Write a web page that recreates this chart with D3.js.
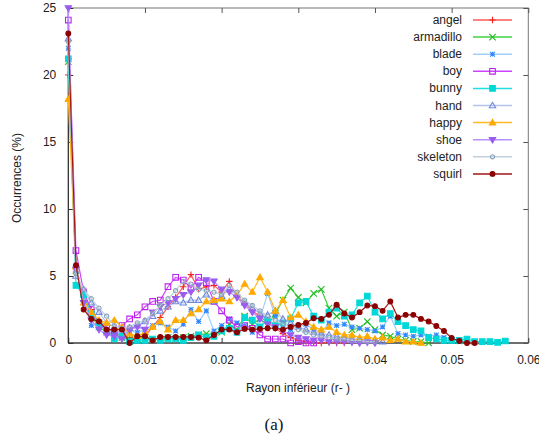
<!DOCTYPE html>
<html><head><meta charset="utf-8">
<script src="https://cdn.jsdelivr.net/npm/d3@7"></script>
<style>
html,body{margin:0;padding:0;background:#fff;}
svg{display:block;font-family:"Liberation Sans",Arial,sans-serif;}
</style></head>
<body><svg id="chart" width="539" height="439"></svg>
<script>
// Data: occurrences (%) per radius bin, bin width 0.001
const xStep = 0.001;
const angel = [20.0,5.3,3.5,2.5,1.5,1.0,0.7,0.5,0.4,0.3,0.5,1.2,1.9,2.7,3.4,4.2,5.1,4.0,4.2,4.3,3.8,4.6,3.4,3.0,2.4,2.0,1.5,1.1,0.7,0.4,0.2,0.1,0.05,0.0,0.05,0.0,0.0];
const armadillo = [21.0,5.4,3.3,2.0,1.2,0.8,0.5,0.4,0.3,0.3,0.4,0.3,0.3,0.4,0.3,0.4,0.5,0.6,0.7,0.6,0.8,1.4,1.0,2.0,1.4,1.8,1.3,2.2,3.2,4.1,3.4,3.0,3.7,4.0,2.6,2.0,2.3,1.0,1.1,1.6,1.0,0.6,0.5,0.3,0.2,0.1,0.1,0.0];
const blade = [22.0,5.4,3.6,1.3,1.4,0.9,0.8,0.6,0.9,0.8,1.0,1.3,1.5,1.2,0.9,1.4,2.5,1.6,2.4,0.9,1.3,1.8,1.5,1.3,0.8,1.8,3.7,2.0,1.2,1.0,1.2,1.4,1.0,0.8,1.5,1.3,1.4,1.2,1.1,1.0,0.9,1.2,2.0,0.7,0.6,0.5,0.6,0.5,0.6,0.4,0.3,0.1];
const boy = [24.1,6.9,3.8,2.5,1.5,1.2,0.8,1.3,1.8,2.1,2.7,3.1,3.2,4.2,4.9,4.7,4.1,4.9,4.5,3.1,2.4,1.7,1.2,1.3,1.1,0.6,0.3,0.3,0.3,0.0,0.1,0.0,0.0];
const bunny = [21.2,4.3,3.6,2.2,1.5,0.9,0.3,0.5,0.1,0.2,0.2,0.3,0.2,0.3,0.3,0.2,0.4,0.6,0.4,0.5,0.9,1.1,0.8,1.9,1.7,1.2,1.7,1.3,1.5,1.8,3.0,3.1,2.0,1.7,2.3,2.6,2.0,2.1,3.0,3.5,2.3,1.8,2.2,1.6,1.3,1.0,0.9,0.4,0.3,0.2,0.2,0.2,0.3,0.1,0.1,0.1,0.05,0.15];
const hand = [22.7,5.0,4.0,3.0,2.3,1.5,1.2,1.0,1.1,1.3,1.6,2.0,2.4,2.7,3.1,3.0,3.2,3.2,3.6,3.1,3.5,4.0,3.6,3.0,2.6,2.2,2.1,2.4,1.8,1.5,1.2,1.0,0.8,0.7,0.6,0.5,0.4,0.3,0.3,0.2,0.2,0.1];
const happy = [18.2,5.7,3.0,2.3,1.7,1.5,1.7,1.2,0.7,0.5,0.8,1.2,1.6,1.0,1.7,1.7,2.2,2.5,3.1,3.2,3.3,3.1,3.6,4.4,3.8,4.9,3.8,2.4,3.2,1.9,2.1,1.6,1.2,1.0,1.2,0.8,0.6,0.6,0.4,0.5,0.3,0.4,0.2,0.3,0.1,0.1,0.0];
const shoe = [25.0,5.5,3.0,1.7,1.0,0.6,0.5,0.3,1.0,1.2,1.0,2.3,2.7,3.0,3.3,3.6,3.8,4.3,4.7,4.6,4.0,3.8,3.4,2.8,2.3,1.8,1.4,1.2,0.9,0.6,0.4,0.3,0.2,0.2,0.1,0.1,0.1,0.05,0.0,0.05,0.0];
const skeleton = [22.5,5.2,4.0,3.3,2.6,2.0,1.3,1.1,1.2,1.5,1.7,2.2,2.8,3.3,3.9,4.6,4.4,4.0,3.9,3.8,3.6,4.3,3.8,3.2,2.8,2.4,2.0,1.7,1.4,1.2,1.0,0.8,0.6,0.5,0.4,0.3,0.3,0.2,0.2,0.1,0.1];
const squirl = [23.1,5.8,2.5,1.8,1.6,1.0,1.0,1.0,0.0,0.5,0.5,0.2,0.45,0.45,0.45,0.45,0.45,0.4,0.2,0.6,1.0,1.0,0.8,1.05,1.0,1.05,1.1,1.1,1.0,1.2,1.35,1.5,1.85,1.8,2.1,2.85,2.2,1.9,2.3,2.8,2.75,2.4,3.1,1.9,2.1,2.1,1.8,1.6,1.27,0.9,0.37,0.15,0.0,0.0];

const names = ["angel","armadillo","blade","boy","bunny","hand","happy","shoe","skeleton","squirl"];
const seriesValues = [angel,armadillo,blade,boy,bunny,hand,happy,shoe,skeleton,squirl];
const lineColors = ["#ff5a5a","#3fd23f","#9fcfff","#cc44ff","#22e0e0","#b4c2ee","#ffba20","#b890ff","#c2d0dc","#a01818"];
const markColors = ["#ee2020","#22bb22","#3388ff","#bb22ee","#00d8d8","#7088dd","#ffaa00","#9a5cf0","#8aa2b8","#8b0000"];
const markTypes = ["plus","cross","star","sqOpen","sqFill","triOpen","triFill","tdFill","circOpen","circFill"];
const xTicks = [0,0.01,0.02,0.03,0.04,0.05,0.06];
const xTickLabels = ["0","0.01","0.02","0.03","0.04","0.05","0.06"];
const yTicks = [0,5,10,15,20,25];

const svg = d3.select("#chart");
const L = 68.3, R = 528.3, T = 8, B = 343;
const x = d3.scaleLinear().domain([0,0.06]).range([L,R]);
const y = d3.scaleLinear().domain([0,25]).range([B,T]);

svg.append("defs").append("clipPath").attr("id","clip")
  .append("rect").attr("x",L-4).attr("y",T-4).attr("width",R-L+8).attr("height",B-T+8);

function markerPath(type){
  const r = 3.2;
  switch(type){
    case "plus": return `M${-r},0H${r}M0,${-r}V${r}`;
    case "cross": return `M${-r},${-r}L${r},${r}M${-r},${r}L${r},${-r}`;
    case "star": {const s=2.4; return `M${-s},0H${s}M0,${-s}V${s}M${-s},${-s}L${s},${s}M${-s},${s}L${s},${-s}`;}
    case "sqOpen": case "sqFill": {const s=2.8; return `M${-s},${-s}H${s}V${s}H${-s}Z`;}
    case "triOpen": case "triFill": return `M0,${-r}L${r},${r*0.7}L${-r},${r*0.7}Z`;
    case "tdFill": return `M0,${r}L${r},${-r*0.7}L${-r},${-r*0.7}Z`;
    case "circOpen": return d3.symbol(d3.symbolCircle, 14)();
    case "circFill": return d3.symbol(d3.symbolCircle, 18)();
  }
}
function isFilled(t){ return ["sqFill","triFill","tdFill","circFill"].includes(t); }

const frame = svg.append("g");
frame.append("rect").attr("x",L).attr("y",T).attr("width",R-L).attr("height",B-T)
  .attr("fill","none").attr("stroke","#777").attr("stroke-width",1);
frame.append("line").attr("x1",L).attr("x2",L).attr("y1",T).attr("y2",B).attr("stroke","#222");
frame.append("line").attr("x1",L).attr("x2",R).attr("y1",B).attr("y2",B).attr("stroke","#222");

const xAxisB = d3.axisBottom(x).tickValues(xTicks).tickFormat((d,i)=>xTickLabels[i]).tickSizeInner(-5).tickSizeOuter(0).tickPadding(12);
const gx = svg.append("g").attr("transform",`translate(0,${B})`).call(xAxisB);
gx.select(".domain").remove();
gx.selectAll("line").attr("stroke","#333");
gx.selectAll("text").attr("font-size",12).attr("fill","#222").attr("font-family","Liberation Sans, Arial, sans-serif");

const xAxisT = d3.axisTop(x).tickValues(xTicks).tickFormat("").tickSizeInner(-5).tickSizeOuter(0);
const gxt = svg.append("g").attr("transform",`translate(0,${T})`).call(xAxisT);
gxt.select(".domain").remove();
gxt.selectAll("line").attr("stroke","#555");

const yAxisL = d3.axisLeft(y).tickValues(yTicks).tickSizeInner(-5).tickSizeOuter(0).tickPadding(12);
const gy = svg.append("g").attr("transform",`translate(${L},0)`).call(yAxisL);
gy.select(".domain").remove();
gy.selectAll("line").attr("stroke","#333");
gy.selectAll("text").attr("font-size",12).attr("fill","#222").attr("font-family","Liberation Sans, Arial, sans-serif");

const yAxisR = d3.axisRight(y).tickValues(yTicks).tickFormat("").tickSizeInner(-5).tickSizeOuter(0);
const gyr = svg.append("g").attr("transform",`translate(${R},0)`).call(yAxisR);
gyr.select(".domain").remove();
gyr.selectAll("line").attr("stroke","#555");

svg.append("text").attr("x",298).attr("y",392).attr("text-anchor","middle")
  .attr("font-size",12).attr("fill","#222").text("Rayon inférieur (r- )");
svg.append("text").attr("transform","translate(21,178) rotate(-90)").attr("text-anchor","middle")
  .attr("font-size",12).attr("fill","#222").text("Occurrences (%)");
svg.append("text").attr("x",274).attr("y",430).attr("text-anchor","middle")
  .attr("font-family","Liberation Serif, Times New Roman, serif").attr("font-size",17).attr("fill","#111").text("(a)");

const plot = svg.append("g").attr("clip-path","url(#clip)");
const line = d3.line().x((d,i)=>x(i*xStep)).y(d=>y(d));
seriesValues.forEach((vals,k)=>{
  const g = plot.append("g");
  g.append("path").datum(vals).attr("d",line).attr("fill","none")
    .attr("stroke",lineColors[k]).attr("stroke-width",1.2);
  const t = markTypes[k];
  g.selectAll("path.m").data(vals).join("path").attr("class","m")
    .attr("transform",(d,i)=>`translate(${x(i*xStep)},${y(d)})`)
    .attr("d",markerPath(t))
    .attr("fill",isFilled(t)?markColors[k]:"none")
    .attr("stroke",markColors[k]).attr("stroke-width",1.1);
});

const leg = svg.append("g");
names.forEach((n,k)=>{
  const yy = 20 + k*17.1;
  leg.append("text").attr("x",462).attr("y",yy+4).attr("text-anchor","end")
    .attr("font-size",12).attr("fill","#222").text(n);
  leg.append("line").attr("x1",473).attr("x2",512).attr("y1",yy).attr("y2",yy)
    .attr("stroke",lineColors[k]).attr("stroke-width",1.5);
  const t = markTypes[k];
  leg.append("path").attr("transform",`translate(492.5,${yy})`).attr("d",markerPath(t))
    .attr("fill",isFilled(t)?markColors[k]:"none")
    .attr("stroke",markColors[k]).attr("stroke-width",1.1);
});
</script></body></html>
